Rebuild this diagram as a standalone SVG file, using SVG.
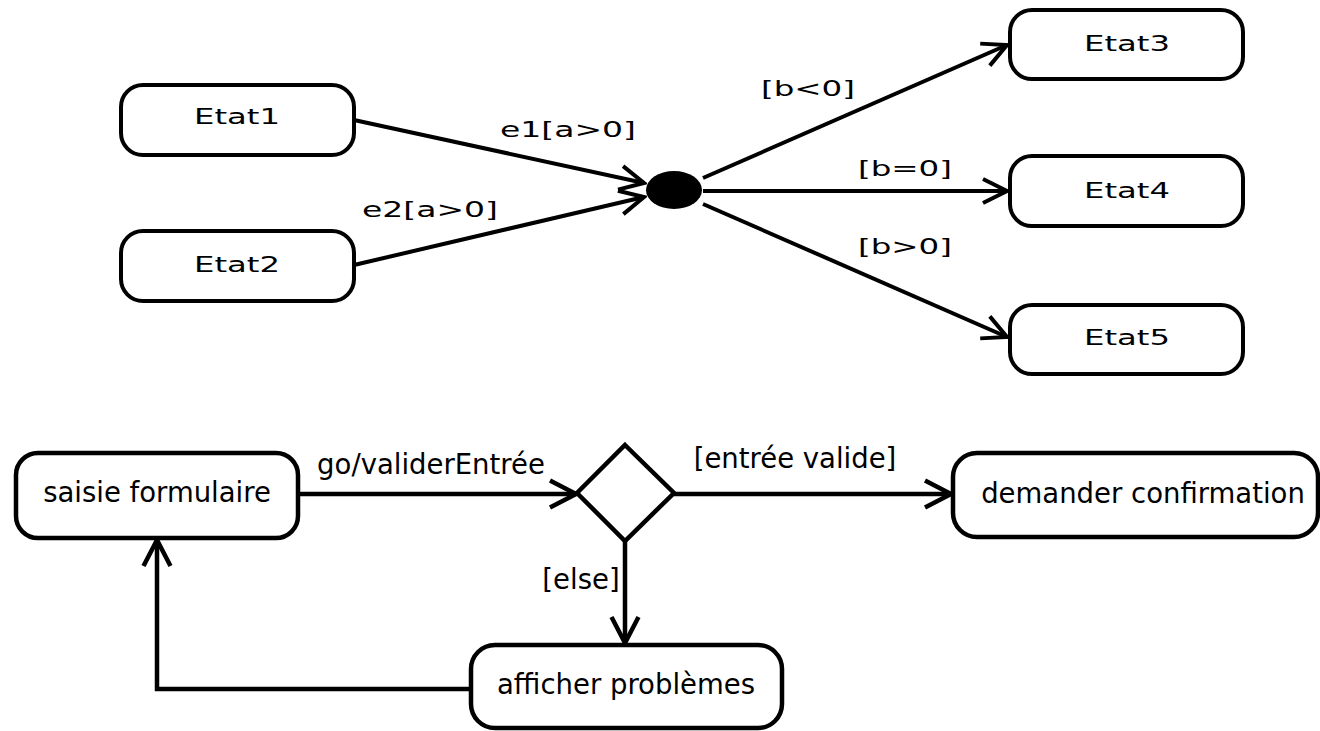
<svg xmlns="http://www.w3.org/2000/svg" width="1320" height="731" viewBox="0 0 1320 731">
  <style>
    .box { fill: #fff; stroke: #000; stroke-width: 4; }
    .box2 { fill: #fff; stroke: #000; stroke-width: 4.5; }
    .edge { fill: none; stroke: #000; stroke-width: 4; }
    .edge2 { fill: none; stroke: #000; stroke-width: 4.5; }
    .wide { font-family: "DejaVu Sans", "Liberation Sans", sans-serif; font-size: 22px; fill: #000; }
    .label { font-family: "DejaVu Sans", "Liberation Sans", sans-serif; font-size: 27.5px; fill: #000; }
  </style>
  <defs>
    <marker id="open" viewBox="0 0 30 30" refX="27" refY="15" markerWidth="30" markerHeight="30" markerUnits="userSpaceOnUse" orient="auto">
      <path d="M3,3 L27,15 L3,27" fill="none" stroke="#000" stroke-width="4"/>
    </marker>
    <marker id="openL" viewBox="0 0 32 32" refX="29" refY="16" markerWidth="32" markerHeight="32" markerUnits="userSpaceOnUse" orient="auto">
      <path d="M3,2.5 L29,16 L3,29.5" fill="none" stroke="#000" stroke-width="4.5"/>
    </marker>
  </defs>
  <rect width="1320" height="731" fill="#fff"/>

  <!-- transitions -->
  <g id="connectors">
    <line class="edge" x1="354" y1="120" x2="644" y2="183" marker-end="url(#open)"/>
    <line class="edge" x1="354" y1="265" x2="644" y2="197" marker-end="url(#open)"/>
    <line class="edge" x1="703" y1="178" x2="1007" y2="45" marker-end="url(#open)"/>
    <line class="edge" x1="703" y1="191" x2="1007" y2="191" marker-end="url(#open)"/>
    <line class="edge" x1="703" y1="204" x2="1007" y2="337" marker-end="url(#open)"/>
    <text class="wide" x="568" y="137" text-anchor="middle" textLength="136" lengthAdjust="spacingAndGlyphs">e1[a&gt;0]</text>
    <text class="wide" x="430" y="217" text-anchor="middle" textLength="136" lengthAdjust="spacingAndGlyphs">e2[a&gt;0]</text>
    <text class="wide" x="808" y="96" text-anchor="middle" textLength="94" lengthAdjust="spacingAndGlyphs">[b&lt;0]</text>
    <text class="wide" x="905" y="176" text-anchor="middle" textLength="94" lengthAdjust="spacingAndGlyphs">[b=0]</text>
    <text class="wide" x="905" y="254" text-anchor="middle" textLength="94" lengthAdjust="spacingAndGlyphs">[b&gt;0]</text>

    <line class="edge2" x1="298" y1="494" x2="576" y2="494" marker-end="url(#openL)"/>
    <line class="edge2" x1="674" y1="494" x2="951" y2="494" marker-end="url(#openL)"/>
    <line class="edge2" x1="625" y1="541" x2="625" y2="643" marker-end="url(#openL)"/>
    <polyline class="edge2" points="471,689 157,689 157,540" marker-end="url(#openL)"/>
    <text class="label" x="431" y="474" text-anchor="middle">go/validerEntrée</text>
    <text class="label" x="795" y="468" text-anchor="middle">[entrée valide]</text>
    <text class="label" x="581" y="589" text-anchor="middle">[else]</text>
  </g>

  <g id="etat1">
    <rect class="box" x="121" y="85" width="233" height="70" rx="22"/>
    <text class="wide" x="237" y="124" text-anchor="middle" textLength="86" lengthAdjust="spacingAndGlyphs">Etat1</text>
  </g>
  <g id="etat2">
    <rect class="box" x="121" y="231" width="233" height="70" rx="22"/>
    <text class="wide" x="237" y="272" text-anchor="middle" textLength="86" lengthAdjust="spacingAndGlyphs">Etat2</text>
  </g>
  <g id="junction">
    <ellipse cx="674" cy="190" rx="28" ry="19" fill="#000"/>
  </g>
  <g id="etat3">
    <rect class="box" x="1010" y="10" width="233" height="69" rx="22"/>
    <text class="wide" x="1127" y="51" text-anchor="middle" textLength="86" lengthAdjust="spacingAndGlyphs">Etat3</text>
  </g>
  <g id="etat4">
    <rect class="box" x="1010" y="156" width="233" height="70" rx="22"/>
    <text class="wide" x="1127" y="198" text-anchor="middle" textLength="86" lengthAdjust="spacingAndGlyphs">Etat4</text>
  </g>
  <g id="etat5">
    <rect class="box" x="1010" y="305" width="233" height="69" rx="22"/>
    <text class="wide" x="1127" y="345" text-anchor="middle" textLength="86" lengthAdjust="spacingAndGlyphs">Etat5</text>
  </g>

  <g id="saisie">
    <rect class="box2" x="16" y="453" width="282" height="85" rx="22"/>
    <text class="label" x="157" y="502" text-anchor="middle">saisie formulaire</text>
  </g>
  <g id="decision">
    <polygon class="box2" points="625,445 674,493 625,541 577,493"/>
  </g>
  <g id="demander">
    <rect class="box2" x="953" y="453" width="365" height="84" rx="24"/>
    <text class="label" x="1143" y="503" text-anchor="middle">demander confirmation</text>
  </g>
  <g id="afficher">
    <rect class="box2" x="471" y="645" width="311" height="83" rx="24"/>
    <text class="label" x="626" y="694" text-anchor="middle">afficher problèmes</text>
  </g>
</svg>
